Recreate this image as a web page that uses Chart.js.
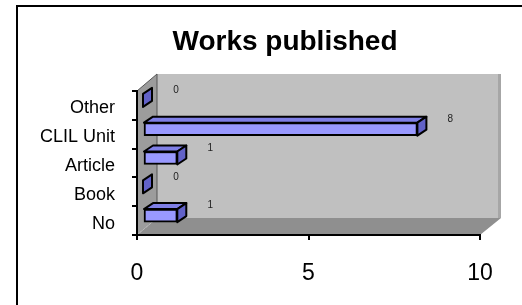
<!DOCTYPE html>
<html>
<head>
<meta charset="utf-8">
<script src="https://cdn.jsdelivr.net/npm/chart.js@4.4.1/dist/chart.umd.min.js"></script>
<style>
  body { margin: 0; overflow: hidden; background: #fff; }
  #frame { position: absolute; left: 16px; top: 5px; width: 700px; height: 500px; border: 2px solid #000; }
  #myChart { position: absolute; left: 0; top: 0; }
</style>
</head>
<body>
<div id="frame"></div>
<canvas id="myChart" width="522" height="305"></canvas>
<script>
// data (Excel order, bottom to top)
const categories = ['No', 'Book', 'Article', 'CLIL Unit', 'Other'];
const works = [1, 0, 1, 8, 0];
const xTicks = [0, 5, 10];
const chartTitle = 'Works published';

const depthX = 20, depthY = -17;   // wall depth
const barDX = 9, barDY = -6;       // bar depth
const shiftX = 6, shiftY = -5;     // bar front face offset
const FONT = '"Liberation Sans", Arial, sans-serif';

const walls = {
  id: 'walls',
  beforeDraw(chart) {
    const c = chart.ctx, a = chart.chartArea;
    c.save();
    // back wall
    c.fillStyle = '#c0c0c0';
    c.fillRect(a.left + depthX, a.top + depthY, a.right - a.left, a.bottom - a.top);
    c.fillStyle = '#a6a6a6';
    c.fillRect(a.right + depthX - 2, a.top + depthY, 3, a.bottom - a.top);
    // floor
    c.fillStyle = '#8f8f8f';
    c.beginPath();
    c.moveTo(a.left, a.bottom);
    c.lineTo(a.right, a.bottom);
    c.lineTo(a.right + depthX + 1, a.bottom + depthY);
    c.lineTo(a.left + depthX, a.bottom + depthY);
    c.closePath();
    c.fill();
    // left wall
    c.fillStyle = '#9c9c9c';
    c.beginPath();
    c.moveTo(a.left, a.top);
    c.lineTo(a.left + depthX, a.top + depthY);
    c.lineTo(a.left + depthX, a.bottom + depthY);
    c.lineTo(a.left, a.bottom);
    c.closePath();
    c.fill();
    c.strokeStyle = '#555';
    c.lineWidth = 1;
    c.beginPath();
    c.moveTo(a.left, a.top);
    c.lineTo(a.left + depthX, a.top + depthY);
    c.lineTo(a.left + depthX, a.bottom + depthY);
    c.stroke();
    c.setLineDash([2, 2]);
    c.strokeStyle = '#bbb';
    c.beginPath();
    c.moveTo(a.left, a.bottom);
    c.lineTo(a.left + depthX, a.bottom + depthY);
    c.stroke();
    c.setLineDash([]);
    // title
    c.fillStyle = '#000';
    c.font = 'bold 28px ' + FONT;
    c.textAlign = 'center';
    c.textBaseline = 'alphabetic';
    c.fillText(chartTitle, 285, 50);
    c.restore();
  },
  beforeDatasetsDraw(chart) {
    chart.ctx.save();
    chart.ctx.translate(shiftX, shiftY);
  },
  afterDatasetsDraw(chart) {
    const c = chart.ctx;
    c.restore();
    const meta = chart.getDatasetMeta(0);
    c.save();
    c.lineWidth = 2;
    c.strokeStyle = '#000';
    c.lineJoin = 'round';
    meta.data.forEach((bar, i) => {
      const h = bar.height;
      const left = bar.base + shiftX, right = bar.x + shiftX;
      const top = bar.y - h / 2 + shiftY, bottom = bar.y + h / 2 + shiftY;
      if (right - left > 0.5) {
        c.fillStyle = '#7f7fe6';
        c.beginPath();
        c.moveTo(left, top);
        c.lineTo(left + barDX, top + barDY);
        c.lineTo(right + barDX, top + barDY);
        c.lineTo(right, top);
        c.closePath();
        c.fill();
        c.stroke();
      }
      c.fillStyle = '#6262c8';
      c.beginPath();
      c.moveTo(right, top);
      c.lineTo(right + barDX, top + barDY);
      c.lineTo(right + barDX, bottom + barDY);
      c.lineTo(right, bottom);
      c.closePath();
      c.fill();
      c.stroke();
      // value label
      c.fillStyle = '#222';
      c.font = '10px ' + FONT;
      c.textAlign = 'center';
      c.textBaseline = 'middle';
      c.fillText(String(works[i]), bar.x + 39, bar.y - 15);
    });
    c.restore();
  }
};

const Works = new Chart(document.getElementById('myChart'), {
  type: 'bar',
  data: {
    labels: categories,
    datasets: [{
      data: works,
      backgroundColor: '#9999ff',
      borderColor: '#000',
      borderWidth: 2,
      borderSkipped: false,
      barThickness: 13
    }]
  },
  options: {
    indexAxis: 'y',
    responsive: false,
    animation: false,
    layout: { padding: { left: 16, right: 42, top: 91, bottom: 0 } },
    plugins: {
      legend: { display: false },
      tooltip: { enabled: false },
      title: { display: false }
    },
    scales: {
      x: {
        min: 0,
        max: 10,
        afterBuildTicks(s) { s.ticks = xTicks.map(v => ({ value: v })); },
        afterFit(s) { s.height = 70; },
        grid: { drawOnChartArea: false, color: '#000', lineWidth: 2, tickLength: 5 },
        border: { display: true, color: '#000', width: 2 },
        ticks: {
          color: '#000',
          padding: 20,
          maxRotation: 0,
          font: { family: FONT, size: 23 }
        }
      },
      y: {
        reverse: true,
        afterFit(s) { s.width = 121; },
        grid: { drawOnChartArea: false, offset: true, color: '#000', lineWidth: 2, tickLength: 5 },
        border: { display: true, color: '#000', width: 2 },
        ticks: {
          color: '#000',
          padding: 17,
          labelOffset: 3,
          font: { family: FONT, size: 18 }
        }
      }
    }
  },
  plugins: [walls]
});
</script>
</body>
</html>
